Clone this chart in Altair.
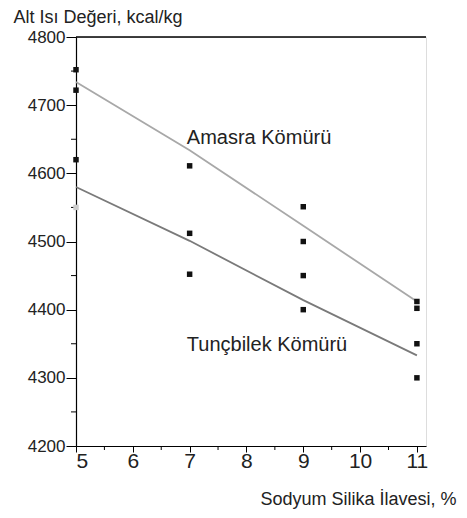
import altair as alt
import pandas as pd

# measured points
pt_x = [5, 5, 5, 7, 7, 7, 9, 9, 9, 9, 11, 11, 11, 11]
pt_y = [4752, 4722, 4620, 4611, 4512, 4452, 4551, 4500, 4450, 4400, 4412, 4402, 4350, 4300]
faint_x = [5]
faint_y = [4550]

# fitted lines
line_x = [5, 7, 9, 11]
amasra_y = [4734, 4634, 4523, 4412]
tuncbilek_y = [4580, 4501, 4414, 4333]

label_names = ["Amasra Kömürü", "Tunçbilek Kömürü"]
label_x = [6.95, 6.95]
label_y = [4652, 4348]

y_minor = [4250, 4350, 4450, 4550, 4650, 4750]
x_minor = [5.5, 6.5, 7.5, 8.5, 9.5, 10.5]

FONT = "Liberation Sans"

pts = pd.DataFrame({"x": pt_x, "y": pt_y})
faint = pd.DataFrame({"x": faint_x, "y": faint_y})
lines = pd.DataFrame({
    "x": line_x * 2,
    "y": amasra_y + tuncbilek_y,
    "s": ["Amasra"] * 4 + ["Tuncbilek"] * 4,
})
labels = pd.DataFrame({"name": label_names, "x": label_x, "y": label_y})

xs = alt.Scale(domain=[5, 11.16], nice=False, zero=False)
ys = alt.Scale(domain=[4200, 4800], nice=False, zero=False)

x_axis = alt.Axis(
    values=[5, 6, 7, 8, 9, 10, 11], format="d", grid=False, domainColor="black", domainWidth=1.2,
    tickColor="black", tickSize=6, labelFontSize=21, labelFont=FONT, labelColor="#222",
    labelPadding=-2, title="Sodyum Silika İlavesi, %", titleFont=FONT, titleFontSize=18,
    titleFontWeight="normal", titleColor="#222", titleAnchor="end", titleAlign="right",
    titleX=380, titleY=58, titleBaseline="alphabetic",
)
y_axis = alt.Axis(
    values=[4200, 4300, 4400, 4500, 4600, 4700, 4800], grid=False, domainColor="black",
    domainWidth=1.2, tickColor="black", tickSize=10, labelFontSize=17, labelFont=FONT,
    labelColor="#222", labelPadding=1, format="d",
    title="Alt Isı Değeri, kcal/kg", titleFont=FONT, titleFontSize=18,
    titleFontWeight="normal", titleColor="#222", titleAngle=0, titleAlign="left",
    titleBaseline="alphabetic", titleX=-63, titleY=-15,
)

base_lines = alt.Chart(lines).mark_line(strokeWidth=1.8).encode(
    x=alt.X("x:Q", scale=xs, axis=x_axis),
    y=alt.Y("y:Q", scale=ys, axis=y_axis),
    color=alt.Color("s:N", scale=alt.Scale(domain=["Amasra", "Tuncbilek"],
                                           range=["#a8a8a8", "#7a7a7a"]), legend=None),
)

points = alt.Chart(pts).mark_square(size=30, color="#111", opacity=1).encode(
    x=alt.X("x:Q", scale=xs), y=alt.Y("y:Q", scale=ys)
)
faint_pts = alt.Chart(faint).mark_square(size=30, color="#cccccc", opacity=1).encode(
    x=alt.X("x:Q", scale=xs), y=alt.Y("y:Q", scale=ys)
)

text = alt.Chart(labels).mark_text(
    align="left", baseline="middle", fontSize=20, font=FONT, color="#222"
).encode(x=alt.X("x:Q", scale=xs), y=alt.Y("y:Q", scale=ys), text="name:N")

top_rule = alt.Chart(pd.DataFrame({"a": [0]})).mark_rule(color="black", strokeWidth=1.5).encode(
    x=alt.datum(5, scale=xs), x2=alt.datum(11.16), y=alt.datum(4800, scale=ys)
)

ym = alt.Chart(pd.DataFrame({"y": y_minor})).mark_rule(color="black", strokeWidth=1).encode(
    y=alt.Y("y:Q", scale=ys), x=alt.value(-5), x2=alt.value(0)
)
xm = alt.Chart(pd.DataFrame({"x": x_minor})).mark_rule(color="black", strokeWidth=1).encode(
    x=alt.X("x:Q", scale=xs), y=alt.value(409), y2=alt.value(413)
)

chart = alt.layer(base_lines, top_rule, ym, xm, faint_pts, points, text).properties(
    width=350, height=409,
    autosize=alt.AutoSizeParams(type="none"),
    padding={"left": 68, "top": 29, "right": 33, "bottom": 64},
).configure_view(stroke=None).configure(background="white")

chart.save("out.html", embed_options={"renderer": "svg", "actions": False})
